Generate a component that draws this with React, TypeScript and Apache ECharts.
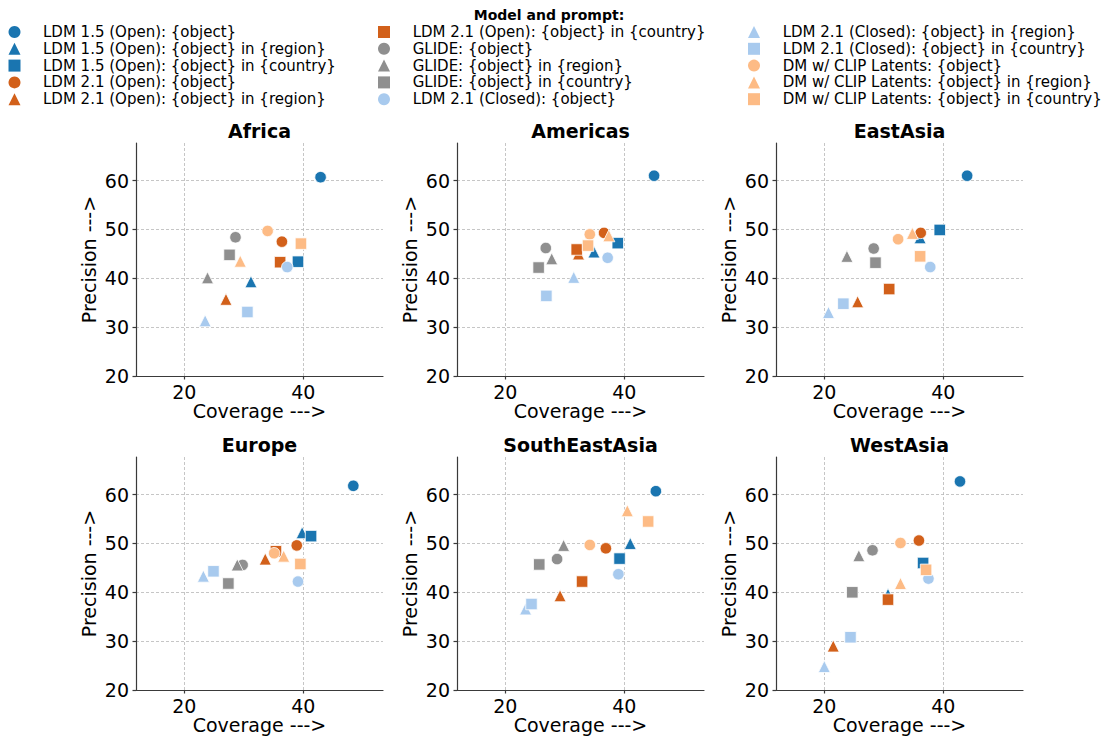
import React, { useEffect, useRef } from "react";
import * as echarts from "echarts";

const FONT = '"DejaVu Sans", "Liberation Sans", sans-serif';

const seriesNames = [
  "LDM 1.5 (Open): {object}",
  "LDM 1.5 (Open): {object} in {region}",
  "LDM 1.5 (Open): {object} in {country}",
  "LDM 2.1 (Open): {object}",
  "LDM 2.1 (Open): {object} in {region}",
  "LDM 2.1 (Open): {object} in {country}",
  "GLIDE: {object}",
  "GLIDE: {object} in {region}",
  "GLIDE: {object} in {country}",
  "LDM 2.1 (Closed): {object}",
  "LDM 2.1 (Closed): {object} in {region}",
  "LDM 2.1 (Closed): {object} in {country}",
  "DM w/ CLIP Latents: {object}",
  "DM w/ CLIP Latents: {object} in {region}",
  "DM w/ CLIP Latents: {object} in {country}",
];
const seriesColors = [
  "#1a75b0", "#1a75b0", "#1a75b0",
  "#d2601a", "#d2601a", "#d2601a",
  "#8f8f8f", "#8f8f8f", "#8f8f8f",
  "#a8caee", "#a8caee", "#a8caee",
  "#fdbb85", "#fdbb85", "#fdbb85",
];
const seriesSymbols = [
  "circle", "triangle", "rect",
  "circle", "triangle", "rect",
  "circle", "triangle", "rect",
  "circle", "triangle", "rect",
  "circle", "triangle", "rect",
];

const regions = ["Africa", "Americas", "EastAsia", "Europe", "SouthEastAsia", "WestAsia"];

const africaCoverage = [42.9, 31.2, 39.1, 36.4, 27.0, 36.1, 28.6, 23.9, 27.6, 37.3, 23.5, 30.6, 34.0, 29.4, 39.6];
const africaPrecision = [60.7, 39.3, 43.4, 47.5, 35.7, 43.3, 48.4, 40.1, 44.8, 42.3, 31.3, 33.1, 49.7, 43.5, 47.1];

const americasCoverage = [45.0, 34.9, 38.9, 36.6, 32.3, 32.0, 26.8, 27.8, 25.6, 37.2, 31.5, 26.9, 34.2, 37.4, 33.9];
const americasPrecision = [61.0, 45.4, 47.2, 49.3, 45.0, 45.9, 46.2, 44.0, 42.2, 44.2, 40.2, 36.4, 49.0, 48.7, 46.7];

const eastAsiaCoverage = [44.0, 36.1, 39.4, 36.2, 25.6, 30.9, 28.3, 23.8, 28.6, 37.8, 20.7, 23.2, 32.4, 34.8, 36.1];
const eastAsiaPrecision = [61.0, 48.3, 49.9, 49.3, 35.2, 37.8, 46.1, 44.5, 43.2, 42.3, 33.0, 34.8, 48.0, 49.2, 44.5];

const europeCoverage = [48.4, 39.8, 41.3, 38.9, 33.6, 35.4, 29.8, 28.9, 27.4, 39.1, 23.2, 24.9, 35.1, 36.7, 39.5];
const europePrecision = [61.8, 52.2, 51.5, 49.6, 46.8, 48.4, 45.6, 45.6, 41.8, 42.2, 43.3, 44.3, 48.0, 47.4, 45.8];

const southEastAsiaCoverage = [45.3, 41.0, 39.2, 36.9, 29.2, 32.9, 28.7, 29.8, 25.7, 39.0, 23.4, 24.4, 34.2, 40.5, 44.0];
const southEastAsiaPrecision = [60.7, 50.0, 46.9, 49.0, 39.3, 42.2, 46.8, 49.6, 45.7, 43.7, 36.6, 37.6, 49.7, 56.7, 54.5];

const westAsiaCoverage = [42.8, 30.7, 36.6, 35.9, 21.5, 30.7, 28.1, 25.8, 24.7, 37.5, 20.0, 24.4, 32.8, 32.8, 37.1];
const westAsiaPrecision = [62.7, 39.6, 46.0, 50.6, 29.0, 38.5, 48.6, 47.5, 40.0, 42.8, 24.8, 30.8, 50.1, 41.8, 44.6];

const coverageByRegion = [africaCoverage, americasCoverage, eastAsiaCoverage, europeCoverage, southEastAsiaCoverage, westAsiaCoverage];
const precisionByRegion = [africaPrecision, americasPrecision, eastAsiaPrecision, europePrecision, southEastAsiaPrecision, westAsiaPrecision];

const xTicks = [20, 40];
const yTicks = [20, 30, 40, 50, 60];
const xRange = [11.88, 53.39];
const yRange = [20, 67.7];

const legendTitle = "Model and prompt:";
const xName = "Coverage --->";
const yName = "Precision --->";

export default function App() {
  const ref = useRef<HTMLDivElement>(null);
  useEffect(() => {
    if (!ref.current) return;
    const chart = echarts.init(ref.current, null, { renderer: "svg" });

    const colLefts = [136, 457, 776];
    const rowTops = [143, 457];
    const gw = 247;
    const gh = 233;

    const grids: any[] = [];
    const xAxes: any[] = [];
    const yAxes: any[] = [];
    const series: any[] = [];
    const graphics: any[] = [];

    const axisLineStyle = { color: "#3a3a3a", width: 1.2 };
    const splitLine = { show: true, lineStyle: { color: "#b8b8b8", type: [3, 2], width: 0.8 } };

    regions.forEach((region, i) => {
      const col = i % 3;
      const row = Math.floor(i / 3);
      grids.push({ left: colLefts[col], top: rowTops[row], width: gw, height: gh, containLabel: false });
      xAxes.push({
        type: "value",
        gridIndex: i,
        min: xRange[0],
        max: xRange[1],
        name: xName,
        nameLocation: "middle",
        nameGap: 25,
        nameTextStyle: { fontFamily: FONT, fontSize: 19, color: "#000" },
        axisLine: { show: true, lineStyle: axisLineStyle },
        axisTick: { show: true, length: 3.5, lineStyle: axisLineStyle, customValues: xTicks },
        axisLabel: { customValues: xTicks, fontFamily: FONT, fontSize: 19, color: "#000", margin: 6 },
        splitLine,
      });
      yAxes.push({
        type: "value",
        gridIndex: i,
        min: yRange[0],
        max: yRange[1],
        name: yName,
        nameLocation: "middle",
        nameRotate: 90,
        nameGap: 38,
        nameTextStyle: { fontFamily: FONT, fontSize: 19, color: "#000" },
        axisLine: { show: true, lineStyle: axisLineStyle },
        axisTick: { show: true, length: 3.5, lineStyle: axisLineStyle, customValues: yTicks },
        axisLabel: { customValues: yTicks, fontFamily: FONT, fontSize: 19, color: "#000", margin: 7 },
        splitLine,
      });
      graphics.push({
        type: "text",
        x: colLefts[col] + gw / 2,
        y: rowTops[row] - 12,
        style: {
          text: region,
          font: `bold 19px ${FONT}`,
          fill: "#000",
          align: "center",
          verticalAlign: "middle",
          textAlign: "center",
          textVerticalAlign: "middle",
        },
      });
      seriesNames.forEach((name, j) => {
        series.push({
          type: "scatter",
          name,
          xAxisIndex: i,
          yAxisIndex: i,
          symbol: seriesSymbols[j],
          symbolSize: seriesSymbols[j] === "triangle" ? 12 : 11.5,
          itemStyle: { color: seriesColors[j], borderColor: "#ffffff", borderWidth: 0.8, opacity: 1 },
          data: [[coverageByRegion[i][j], precisionByRegion[i][j]]],
        });
      });
    });

    graphics.push({
      type: "text",
      x: 549,
      y: 15,
      style: {
        text: legendTitle,
        font: `bold 14px ${FONT}`,
        fill: "#000",
        align: "center",
        verticalAlign: "middle",
        textAlign: "center",
        textVerticalAlign: "middle",
      },
    });

    const legendLefts = [8.5, 378, 748];
    const legendPads = [17.5, 17.7, 17.7];
    const legends = [0, 1, 2].map((k) => ({
      show: true,
      orient: "vertical",
      left: legendLefts[k],
      top: 24.5,
      padding: 0,
      itemWidth: 12,
      itemHeight: 12,
      itemGap: 1.8,
      selectedMode: false,
      textStyle: {
        fontFamily: FONT,
        fontSize: 15,
        color: "#000",
        lineHeight: 14,
        padding: [0, 0, 0, legendPads[k]],
      },
      data: seriesNames.slice(k * 5, k * 5 + 5).map((name, q) => ({
        name,
        icon: seriesSymbols[k * 5 + q],
        itemStyle: { color: seriesColors[k * 5 + q], borderWidth: 0 },
      })),
    }));

    chart.setOption({
      animation: false,
      backgroundColor: "#ffffff",
      grid: grids,
      xAxis: xAxes,
      yAxis: yAxes,
      legend: legends,
      series,
      graphic: graphics,
    });

    return () => chart.dispose();
  }, []);

  return <div ref={ref} style={{ width: 1103, height: 738, position: "absolute", left: 0, top: 0 }} />;
}
